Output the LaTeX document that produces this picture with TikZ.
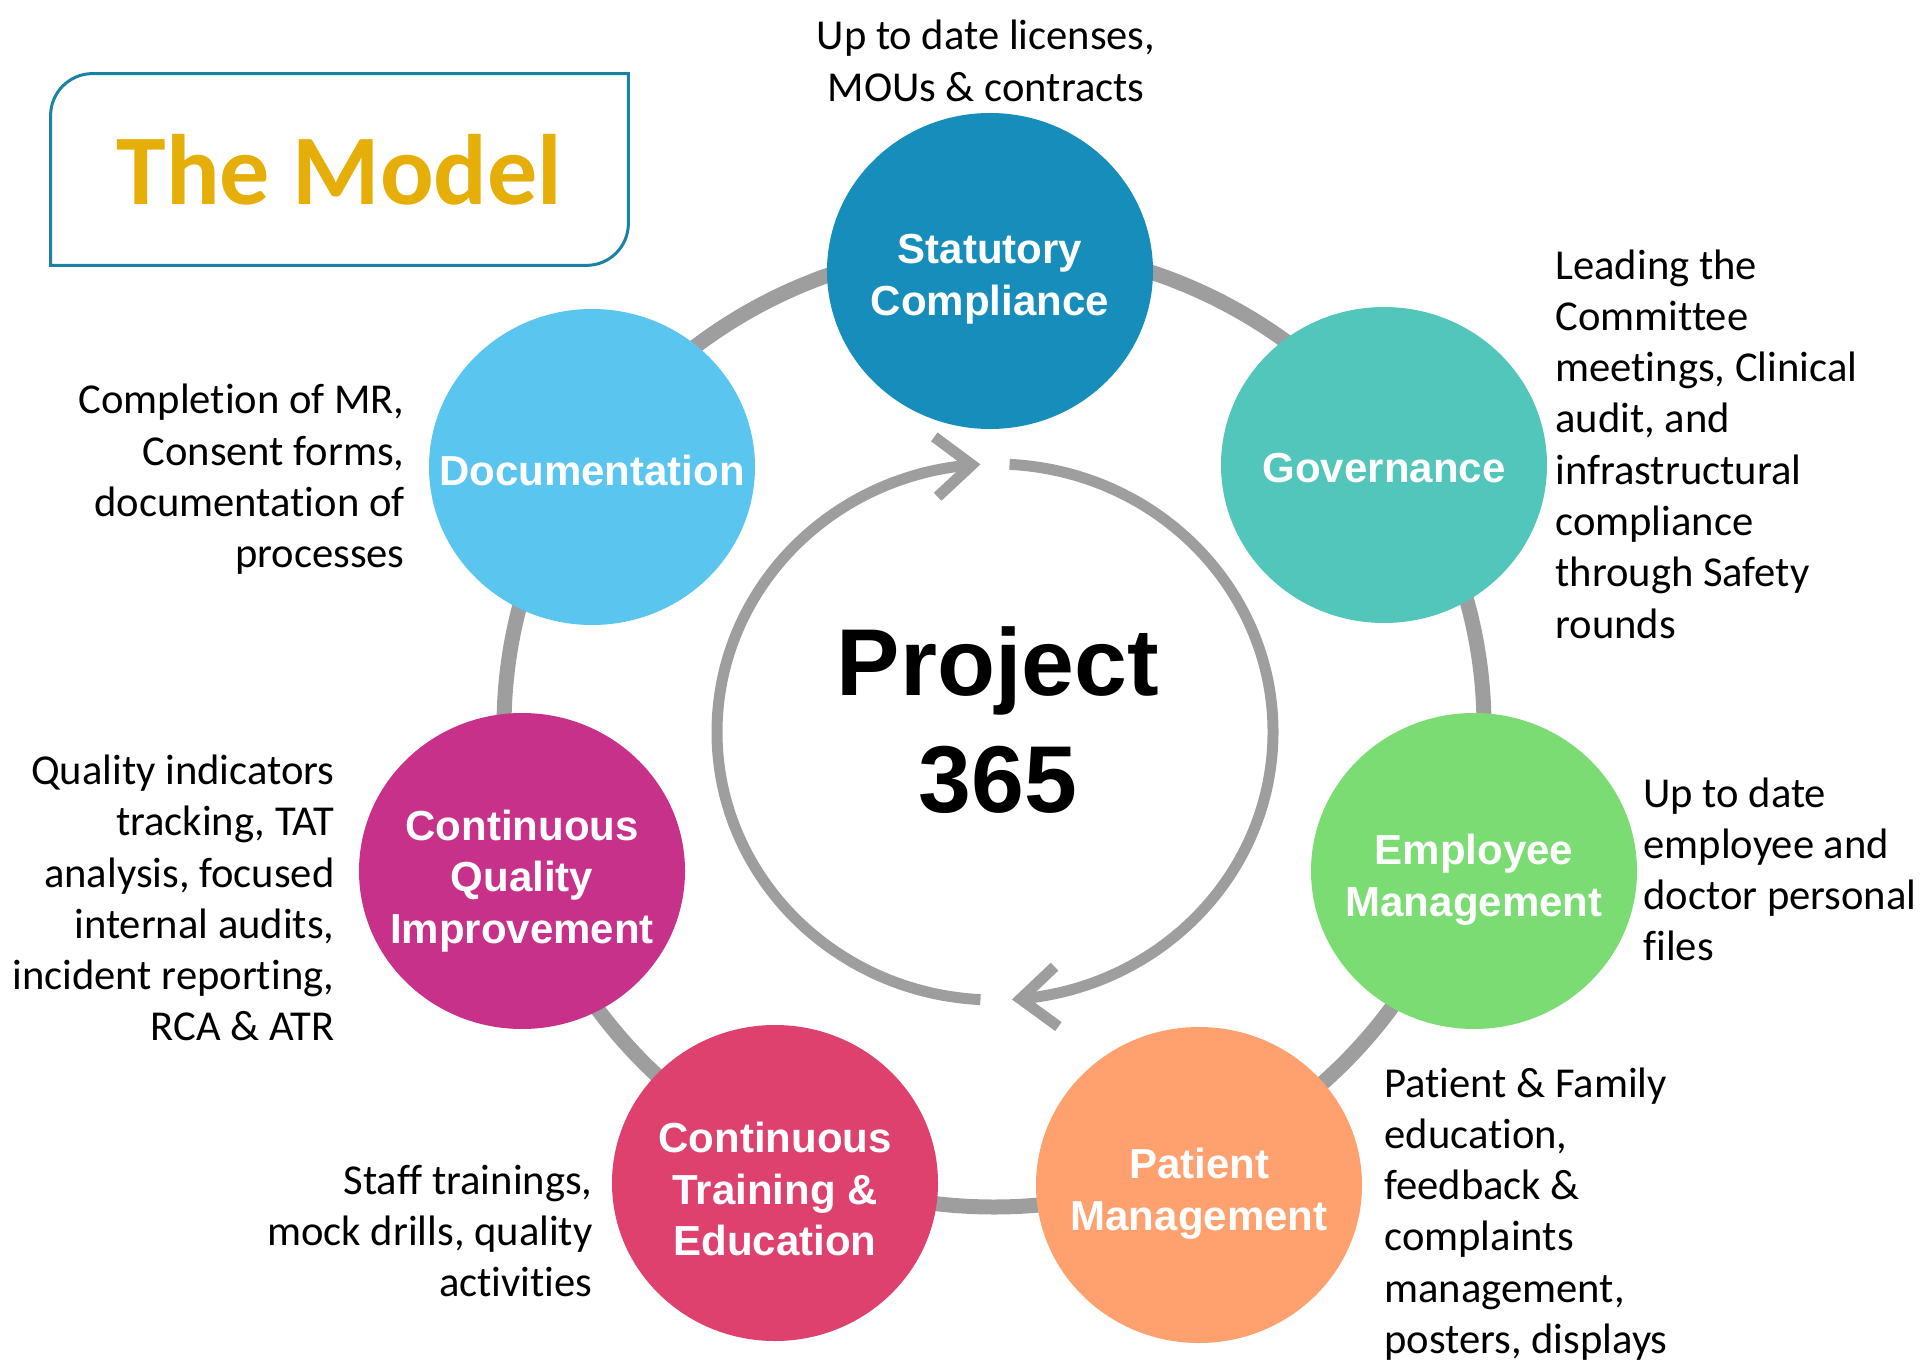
\documentclass[tikz,border=0pt]{standalone}
\usepackage{fontspec}
\setmainfont{Carlito}[Ligatures=NoCommon]
\newfontfamily\labelfont{Liberation Sans}
\usetikzlibrary{shapes.geometric,arrows.meta,bending}
\definecolor{cStat}{HTML}{168DBB}
\definecolor{cGov}{HTML}{52C6BA}
\definecolor{cEmp}{HTML}{7ADC72}
\definecolor{cPat}{HTML}{FFA16F}
\definecolor{cTrn}{HTML}{DF416E}
\definecolor{cCqi}{HTML}{C83189}
\definecolor{cDoc}{HTML}{5AC5EF}
\definecolor{ringgray}{HTML}{9E9E9E}
\definecolor{boxblue}{HTML}{1B82A6}
\definecolor{gold}{HTML}{E6AE08}
\newcommand{\dstrut}{\rule{0pt}{1em}}
\begin{document}
\begin{tikzpicture}[x=0.5pt,y=0.5pt,
  bubble/.style={ellipse, minimum width=163pt, minimum height=158pt, inner sep=0pt},
  lbl/.style={inner sep=0pt, text=white, align=center,
    font=\labelfont\bfseries\fontsize{21}{25.8}\selectfont},
  desc/.style={inner sep=0pt, font=\fontsize{21.3}{25.65}\selectfont},
  ring/.style={draw=ringgray, line width=7.5pt},
  cyc/.style={draw=ringgray, line width=5.5pt, -{Straight Barb[length=18pt,width=30pt]}},
]
\useasboundingbox (0,0) rectangle (1921,1362);

% outer ring
\coordinate (oc) at (994,635);
\draw[ring] (oc) ellipse[x radius=490, y radius=480];

% bubbles
\node[bubble, fill=cStat] (stat) at (990,1091) {};
\node[bubble, fill=cGov] (gov) at (1384,897) {};
\node[bubble, fill=cEmp] (emp) at (1474,491) {};
\node[bubble, fill=cPat] (pat) at (1199,177) {};
\node[bubble, fill=cTrn] (trn) at (775,179) {};
\node[bubble, fill=cCqi] (cqi) at (522,491) {};
\node[bubble, fill=cDoc] (doc) at (592,895) {};

\node[lbl] (statL) at ([yshift=-4pt]stat.center) {Statutory\\Compliance};
\node[lbl] (govL) at ([yshift=-1.5pt]gov.center) {Governance};
\node[lbl] (empL) at ([yshift=-4.5pt]emp.center) {Employee\\Management};
\node[lbl] (patL) at ([yshift=-4.5pt]pat.center) {Patient\\Management};
\node[lbl] (trnL) at ([yshift=-3pt]trn.center) {Continuous\\Training \&\\Education};
\node[lbl] (cqiL) at ([yshift=-5pt]cqi.center) {Continuous\\Quality\\Improvement};
\node[lbl] (docL) at ([yshift=-1.5pt]doc.center) {Documentation};

% centre
\coordinate (ic) at (995,630);
\node[font=\labelfont\bfseries\fontsize{47.5}{58.5}\selectfont, align=center, inner sep=0pt] (proj) at (998,641.5) {Project\\365};
\draw[cyc] ([shift={(267:278 and 268)}]ic) arc[start angle=267, end angle=93, x radius=278, y radius=268];
\draw[cyc] ([shift={(87:278 and 268)}]ic) arc[start angle=87, end angle=-86.5, x radius=278, y radius=268];

% descriptions
\node[desc, anchor=north, align=center] (dstat) at (986,1355) {\dstrut Up to date licenses,\\MOUs \& contracts};
\node[desc, anchor=north west, align=left] (dgov) at (1555,1126) {\dstrut Leading the\\Committee\\meetings, Clinical\\audit, and\\infrastructural\\compliance\\through Safety\\rounds};
\node[desc, anchor=north west, align=left] (demp) at (1643,598) {\dstrut Up to date\\employee and\\doctor personal\\files};
\node[desc, anchor=north west, align=left] (dpat) at (1384,308) {\dstrut Patient \& Family\\education,\\feedback \&\\complaints\\management,\\posters, displays};
\node[desc, anchor=north east, align=right] (dcqi) at (335,620.6) {\dstrut Quality indicators\\tracking, TAT\\analysis, focused\\internal audits,\\incident reporting,\\RCA \& ATR};
\node[desc, anchor=north east, align=right] (ddoc) at (405,991) {\dstrut Completion of MR,\\Consent forms,\\documentation of\\processes};
\node[desc, anchor=north east, align=right] (dtrn) at (593,211) {\dstrut Staff trainings,\\mock drills, quality\\activities};

% title
\node[minimum width=288.5pt, minimum height=95.5pt, inner sep=0pt, text=gold,
  font=\bfseries\fontsize{50}{58}\selectfont] (title) at (339.5,1192.5) {The Model};
\draw[draw=boxblue, line width=1.5pt] (title.south west) -- ([yshift=-21pt]title.north west)
  arc[start angle=180, end angle=90, radius=21pt] -- (title.north east)
  -- ([yshift=21pt]title.south east) arc[start angle=0, end angle=-90, radius=21pt] -- cycle;
\end{tikzpicture}
\end{document}
